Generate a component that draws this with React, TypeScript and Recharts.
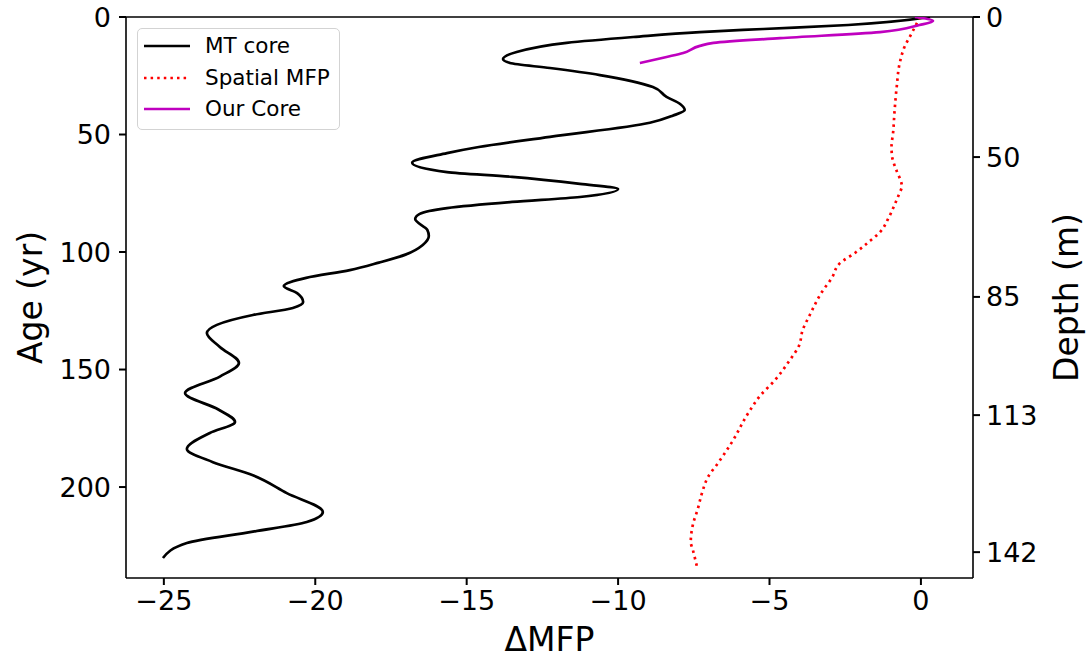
import React from "react";
import { LineChart, Line, XAxis, YAxis, Legend, ReferenceLine } from "recharts";

// MT core: age (yr) and ΔMFP
const mtAge = [0, 3.4, 5.1, 6.4, 8.5, 11, 14.9, 17.9, 19.6, 21.7, 24.7, 29.8, 34, 37, 39.6, 42, 45, 51, 55.3, 57.9, 62, 66, 68, 71, 73.2, 76.6, 78.7, 81.3, 83.8, 86, 90.6, 93.2, 97, 101, 104.5, 107.7, 111, 114.5, 117.5, 121.3, 123.8, 126.8, 131, 134.5, 140.4, 147.2, 153, 160, 167, 172.3, 177, 183.8, 189.4, 195, 202.6, 210.6, 214.9, 219, 223.8, 230.2];
const mtDelta = [0.3, -2.4, -5.2, -7.3, -9.5, -11.7, -13.35, -13.8, -13.57, -12.25, -10.6, -8.85, -8.4, -7.95, -7.8, -8.2, -8.95, -12.25, -14.6, -15.65, -16.8, -15.65, -13.5, -11.26, -10.0, -11.26, -13.5, -15.65, -16.55, -16.7, -16.3, -16.25, -16.45, -17.0, -17.9, -18.86, -20.3, -21.04, -20.6, -20.4, -20.74, -22.06, -23.25, -23.58, -23.15, -22.52, -23.15, -24.3, -23.2, -22.65, -23.48, -24.24, -23.38, -22.06, -20.94, -19.75, -20.28, -22.06, -24.24, -25.03];

// Spatial MFP
const spAge = [0, 6.8, 13, 19.6, 29.8, 40, 49.4, 55, 58.7, 62, 65.5, 72, 75.3, 78.7, 85, 91.5, 96, 100.4, 104.7, 111, 117, 126.8, 133, 140, 146, 154.5, 161, 168.5, 180.9, 189.8, 195.7, 202.6, 209.4, 216, 223.4, 226.8, 233.6];
const spDelta = [-0.03, -0.3, -0.55, -0.7, -0.8, -0.87, -0.92, -0.97, -0.96, -0.9, -0.8, -0.63, -0.72, -0.83, -1.05, -1.35, -1.75, -2.18, -2.67, -2.94, -3.27, -3.67, -3.9, -4.03, -4.33, -4.82, -5.3, -5.7, -6.24, -6.7, -7.03, -7.23, -7.37, -7.53, -7.6, -7.53, -7.4];

// Our Core
const ocAge = [0, 1.7, 3.4, 6.4, 9, 11, 12.3, 15.3, 17, 19.6];
const ocDelta = [-0.2, 0.4, -0.05, -1.35, -4.65, -6.85, -7.3, -7.85, -8.4, -9.28];

// Axis ticks
const xTicks = [-25, -20, -15, -10, -5, 0];
const ageTicks = [0, 50, 100, 150, 200];
const depthTickAges = [0, 59.6, 119.1, 169.4, 227.7];
const depthTickLabels = ["0", "50", "85", "113", "142"];

const xDomain = [-26.25, 1.72];
const ageDomain = [0, 238.7];

const seriesNames = ["MT core", "Spatial MFP", "Our Core"];

const mtData = mtAge.map((a, i) => ({ age: a, v: mtDelta[i] }));
const spData = spAge.map((a, i) => ({ age: a, v: spDelta[i] }));
const ocData = ocAge.map((a, i) => ({ age: a, v: ocDelta[i] }));

const FONT = "'DejaVu Sans', sans-serif";
const minus = (v: number) => (v < 0 ? "\u2212" + Math.abs(v) : String(v));

const LegendBox = () => (
  <div
    style={{
      width: 203,
      height: 102,
      border: "1px solid #d3d3d3",
      borderRadius: 5,
      background: "rgba(255,255,255,0.8)",
      fontFamily: FONT,
      fontSize: 21.5,
      color: "#000",
      boxSizing: "border-box",
      position: "relative",
    }}
  >
    {[
      { name: seriesNames[0], stroke: "#000000", dash: undefined },
      { name: seriesNames[1], stroke: "#ff0000", dash: "2.5 4.1" },
      { name: seriesNames[2], stroke: "#bf00bf", dash: undefined },
    ].map((e, i) => (
      <div key={i} style={{ position: "absolute", left: 6, top: 2 + i * 31.5, height: 30, display: "flex", alignItems: "center" }}>
        <svg width={46} height={10} style={{ display: "block" }}>
          <line x1={0} y1={5} x2={46} y2={5} stroke={e.stroke} strokeWidth={2.7} strokeDasharray={e.dash} />
        </svg>
        <span style={{ marginLeft: 15, whiteSpace: "nowrap", lineHeight: "30px" }}>{e.name}</span>
      </div>
    ))}
  </div>
);

export default function App() {
  const tickStyle = { fontFamily: FONT, fontSize: 27, fill: "#000" };
  const labelStyle = { fontFamily: FONT, fontSize: 33, fill: "#000" };
  return (
    <div style={{ position: "absolute", left: 0, top: 0, background: "#fff" }}>
      <LineChart
        width={1086}
        height={660}
        layout="vertical"
        margin={{ top: 17, right: 0, bottom: 0, left: 0 }}
      >
        <XAxis
          type="number"
          domain={xDomain}
          ticks={xTicks}
          allowDataOverflow
          height={82}
          tickSize={7}
          tickMargin={6}
          tick={tickStyle}
          tickFormatter={minus}
          axisLine={{ stroke: "#000", strokeWidth: 1.6 }}
          tickLine={{ stroke: "#000", strokeWidth: 2 }}
          label={{ value: "\u0394MFP", position: "center", dy: 20, style: labelStyle }}
        />
        <YAxis
          type="number"
          dataKey="age"
          domain={ageDomain}
          ticks={ageTicks}
          allowDataOverflow
          width={126}
          tickSize={7}
          tickMargin={8}
          tick={tickStyle}
          axisLine={{ stroke: "#000", strokeWidth: 1.6 }}
          tickLine={{ stroke: "#000", strokeWidth: 2 }}
          label={{ value: "Age (yr)", angle: -90, position: "center", dx: -33, style: labelStyle }}
        />
        <YAxis
          yAxisId="right"
          orientation="right"
          type="number"
          dataKey="age"
          domain={ageDomain}
          ticks={depthTickAges}
          allowDataOverflow
          width={113}
          tickSize={7}
          tickMargin={6}
          tick={tickStyle}
          tickFormatter={(v: number) => depthTickLabels[depthTickAges.indexOf(v)] ?? ""}
          axisLine={{ stroke: "#000", strokeWidth: 1.6 }}
          tickLine={{ stroke: "#000", strokeWidth: 2 }}
          label={{ value: "Depth (m)", angle: -90, position: "center", dx: 37, style: labelStyle }}
        />
        <ReferenceLine y={ageDomain[0]} stroke="#000" strokeWidth={1.6} ifOverflow="visible" />
        <Legend
          layout="vertical"
          verticalAlign="middle"
          align="center"
          content={() => <LegendBox />}
          wrapperStyle={{ left: 137, top: 28, width: 203 }}
        />
        <Line
          data={mtData}
          dataKey="v"
          name={seriesNames[0]}
          type="monotone"
          stroke="#000000"
          strokeWidth={2.7}
          dot={false}
          activeDot={false}
          isAnimationActive={false}
        />
        <Line
          data={spData}
          dataKey="v"
          name={seriesNames[1]}
          type="monotone"
          stroke="#ff0000"
          strokeWidth={2.7}
          strokeDasharray="2.5 4.1"
          dot={false}
          activeDot={false}
          isAnimationActive={false}
        />
        <Line
          data={ocData}
          dataKey="v"
          name={seriesNames[2]}
          type="monotone"
          stroke="#bf00bf"
          strokeWidth={2.7}
          dot={false}
          activeDot={false}
          isAnimationActive={false}
        />
      </LineChart>
    </div>
  );
}
